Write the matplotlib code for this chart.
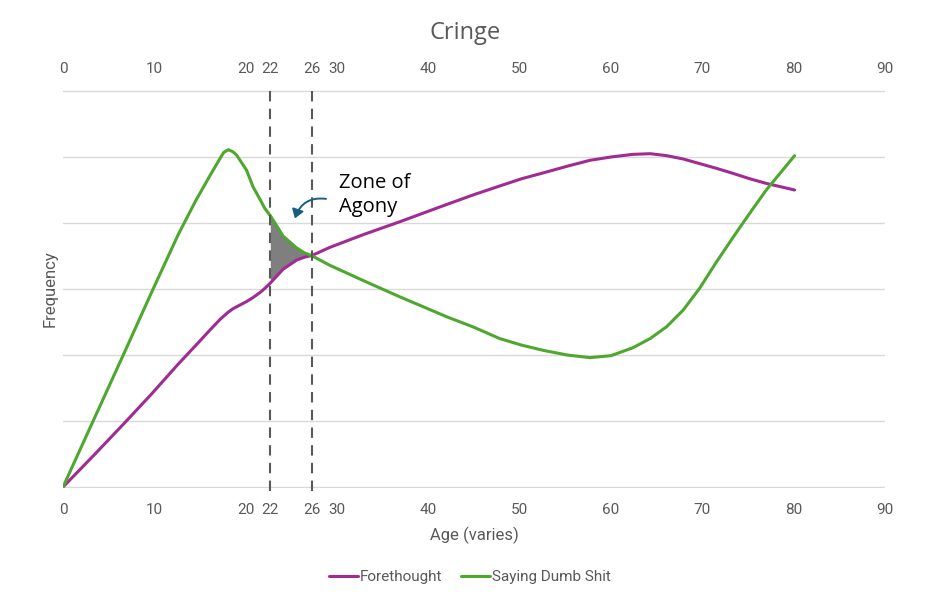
import matplotlib
matplotlib.use("Agg")
import matplotlib.pyplot as plt
from matplotlib.patches import FancyArrowPatch
import numpy as np

# values (age, frequency on a 0-6 grid)
ages = [0, 3.3, 6.6, 9.7, 12.6, 14.5, 16.1, 17.2, 17.6, 18.1, 18.6, 19.0, 20.1, 20.8,
        21.6, 22.1, 22.7, 23.3, 24.1, 25.6, 26.4, 27.3, 29.2, 33, 36.9, 42, 45, 47.8,
        50.2, 52.6, 55.2, 57.7, 60, 62.4, 64.3, 66.1, 67.9, 69.7, 71.5, 73.4, 75.2,
        77.0, 80.1]
forethought = [0, 0.47, 0.95, 1.41, 1.86, 2.14, 2.38, 2.54, 2.59, 2.65, 2.70, 2.73, 2.81,
               2.87, 2.95, 3.01, 3.09, 3.18, 3.30, 3.44, 3.48, 3.51, 3.63, 3.83, 4.02,
               4.28, 4.43, 4.56, 4.67, 4.76, 4.86, 4.95, 5.0, 5.04, 5.05, 5.02, 4.97,
               4.90, 4.83, 4.75, 4.67, 4.60, 4.5]
dumb_shit = [0, 1.0, 2.0, 2.95, 3.82, 4.33, 4.72, 4.98, 5.07, 5.11, 5.08, 5.03, 4.80,
             4.55, 4.35, 4.22, 4.11, 3.98, 3.80, 3.62, 3.55, 3.50, 3.36, 3.12, 2.88,
             2.58, 2.42, 2.25, 2.15, 2.07, 2.0, 1.96, 1.99, 2.11, 2.25, 2.43, 2.68,
             3.01, 3.40, 3.79, 4.15, 4.5, 5.02]

zone_start, zone_end = 22.7, 27.3
zone_labels = ["22", "26"]
major_ticks = [0, 10, 20, 30, 40, 50, 60, 70, 80, 90]

PURPLE = "#A02B93"
GREEN = "#4EA72E"
GREY = "#595959"
narrow = ["Roboto", "DejaVu Sans"]
regular = ["Open Sans", "DejaVu Sans"]

fig = plt.figure(figsize=(9.4, 6.05), dpi=100)
ax = fig.add_axes([63 / 940, 1 - 488 / 605, 822 / 940, 398 / 605])

ax.set_xlim(0, 90)
ax.set_ylim(-0.015, 6.015)
for s in ax.spines.values():
    s.set_visible(False)
ax.set_yticks(range(7))
ax.set_yticklabels([])
ax.tick_params(axis="y", length=0)
ax.grid(axis="y", color="#D9D9D9", lw=1)
ax.set_axisbelow(True)

ticks = major_ticks + [zone_start, zone_end]
labels = [str(t) for t in major_ticks] + zone_labels
ax.set_xticks(ticks)
ax.set_xticklabels(labels, family=narrow, fontsize=11, color=GREY)
ax.tick_params(axis="x", length=0, pad=11)

top = ax.secondary_xaxis("top")
top.set_xticks(ticks)
top.set_xticklabels(labels, family=narrow, fontsize=11, color=GREY)
top.tick_params(axis="x", length=0, pad=10)
for s in top.spines.values():
    s.set_visible(False)

# shaded zone between the two curves
x = np.array(ages)
f = np.array(forethought)
d = np.array(dumb_shit)
mask = (x >= zone_start) & (x <= zone_end)
ax.fill_between(x[mask], f[mask], d[mask], color="#7F7F7F", lw=0, zorder=2)

ax.plot(ages, forethought, color=PURPLE, lw=2.2, label="Forethought", zorder=3,
        solid_capstyle="round", solid_joinstyle="round")
ax.plot(ages, dumb_shit, color=GREEN, lw=2.2, label="Saying Dumb Shit", zorder=3,
        solid_capstyle="round", solid_joinstyle="round")

for xv in (zone_start, zone_end):
    ax.plot([xv, xv], [-0.06, 6], color=GREY, lw=1.5, ls=(0, (5, 3.5)),
            clip_on=False, zorder=4)

ax.text(30.2, 4.42, "Zone of\nAgony", family=regular, fontsize=14.5, color="black",
        va="center", ha="left", linespacing=1.25)
arrow = FancyArrowPatch((29.1, 4.36), (25.3, 4.03), connectionstyle="arc3,rad=0.45",
                        arrowstyle="-|>,head_length=3.2,head_width=2.2",
                        color="#156082", lw=1.4, mutation_scale=1.6, zorder=5)
ax.add_patch(arrow)

fig.text(0.495, 1 - 33 / 605, "Cringe", family=regular, fontsize=17, color=GREY,
         ha="center", va="center")
fig.text(474 / 940, 1 - 535 / 605, "Age (varies)", family=narrow, fontsize=12,
         color=GREY, ha="center", va="center")
fig.text(50 / 940, 1 - 289 / 605, "Frequency", family=narrow, fontsize=12,
         color=GREY, ha="center", va="center", rotation=90)

fig.legend(loc="center", bbox_to_anchor=(470 / 940, 1 - 577 / 605), ncol=2,
           frameon=False, handlelength=1.9, handletextpad=0.15, columnspacing=1.2,
           prop={"family": narrow, "size": 11}, labelcolor=GREY)

fig.savefig("out.png", dpi=100)
